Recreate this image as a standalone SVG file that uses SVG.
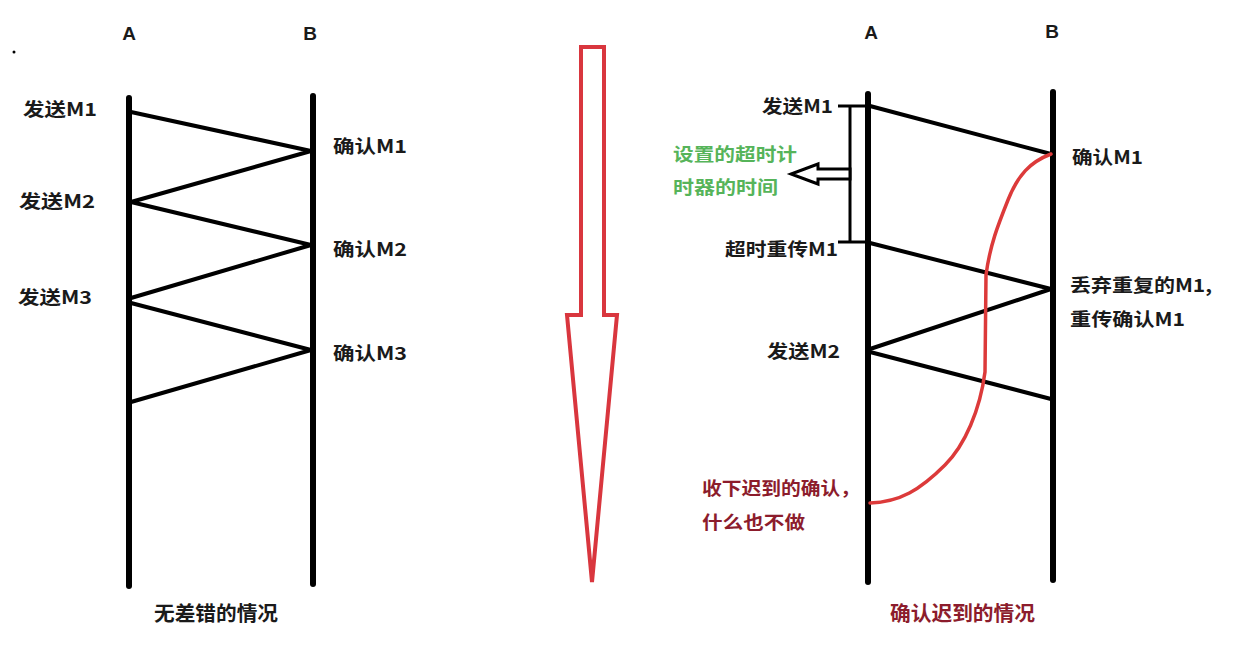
<svg xmlns="http://www.w3.org/2000/svg" width="1242" height="672" viewBox="0 0 1242 672">
<style>
.t{font-family:"Noto Sans CJK SC","Liberation Sans",sans-serif;font-weight:700;font-size:18px;fill:#1a1a1a}
.h{font-family:"Liberation Sans","Noto Sans",sans-serif;font-weight:700;font-size:19px;fill:#1a1a1a}
.g{fill:#56b45a}
.r{fill:#8c1c2c}
.life{stroke:#000;stroke-width:6;stroke-linecap:round}
.msg{stroke:#000;stroke-width:4;stroke-linecap:round;stroke-linejoin:round;fill:none}
</style>
<rect width="1242" height="672" fill="#ffffff"/>
<circle cx="14" cy="52" r="1.5" fill="#000"/>
<!-- Left diagram -->
<g id="left-A">
<line class="life" x1="129" y1="98" x2="129" y2="586"/>
<text class="h" x="129" y="40" text-anchor="middle">A</text>
</g>
<g id="left-B">
<line class="life" x1="313" y1="96" x2="313" y2="584"/>
<text class="h" x="310" y="40" text-anchor="middle">B</text>
</g>
<g id="left-connectors">
<polyline class="msg" points="131,112 311,151 131,202 311,245 131,298"/>
<polyline class="msg" points="131,303 311,350 131,402"/>
</g>
<g id="left-labels">
<text class="t" x="23" y="116" textLength="74" lengthAdjust="spacingAndGlyphs">发送M1</text>
<text class="t" x="19" y="208" textLength="76" lengthAdjust="spacingAndGlyphs">发送M2</text>
<text class="t" x="18" y="304" textLength="74" lengthAdjust="spacingAndGlyphs">发送M3</text>
<text class="t" x="333" y="153" textLength="74" lengthAdjust="spacingAndGlyphs">确认M1</text>
<text class="t" x="333" y="256" textLength="74" lengthAdjust="spacingAndGlyphs">确认M2</text>
<text class="t" x="333" y="360" textLength="74" lengthAdjust="spacingAndGlyphs">确认M3</text>
<text class="t" x="154" y="621" style="font-size:20px" textLength="124" lengthAdjust="spacingAndGlyphs">无差错的情况</text>
</g>
<!-- Middle arrow -->
<g id="big-arrow">
<polygon points="581,47 604,47 604,315 617,315 592,582 567,315 581,315" fill="none" stroke="#d9363e" stroke-width="4" stroke-linejoin="miter"/>
</g>
<!-- Right diagram -->
<g id="right-A">
<line class="life" x1="868" y1="94" x2="868" y2="582"/>
<text class="h" x="871" y="39" text-anchor="middle">A</text>
</g>
<g id="right-B">
<line class="life" x1="1053" y1="92" x2="1053" y2="580"/>
<text class="h" x="1052" y="38" text-anchor="middle">B</text>
</g>
<g id="timer">
<line x1="838" y1="106" x2="868" y2="106" stroke="#000" stroke-width="3"/>
<line x1="838" y1="242" x2="868" y2="242" stroke="#000" stroke-width="3"/>
<line x1="850" y1="106" x2="850" y2="242" stroke="#000" stroke-width="3"/>
<polygon points="850,169 818,169 818,164 791,174 818,184 818,179 850,179" fill="#fff" stroke="#000" stroke-width="3" stroke-linejoin="miter"/>
</g>
<g id="right-connectors">
<line class="msg" x1="870" y1="106" x2="1051" y2="154"/>
<polyline class="msg" points="870,243 1051,289 870,349"/>
<line class="msg" x1="870" y1="352" x2="1051" y2="399"/>
<path d="M1051,154 C1030,162 1018,175 1008,200 S990,245 986,275 L985,372 C980,410 965,445 945,465 C920,490 900,502 870,503" fill="none" stroke="#dc3a3a" stroke-width="3.5" stroke-linecap="round"/>
</g>
<g id="right-labels">
<text class="t" x="762" y="113" textLength="71" lengthAdjust="spacingAndGlyphs">发送M1</text>
<text class="t" x="1072" y="164" textLength="71" lengthAdjust="spacingAndGlyphs">确认M1</text>
<text class="t g" x="673" y="161" textLength="124" lengthAdjust="spacingAndGlyphs">设置的超时计</text>
<text class="t g" x="673" y="194" textLength="105" lengthAdjust="spacingAndGlyphs">时器的时间</text>
<text class="t" x="725" y="256" textLength="113" lengthAdjust="spacingAndGlyphs">超时重传M1</text>
<text class="t" x="1070" y="292" textLength="142" lengthAdjust="spacingAndGlyphs">丢弃重复的M1,</text>
<text class="t" x="1070" y="326" textLength="115" lengthAdjust="spacingAndGlyphs">重传确认M1</text>
<text class="t" x="767" y="358" textLength="73" lengthAdjust="spacingAndGlyphs">发送M2</text>
<text class="t r" x="702" y="495" textLength="158" lengthAdjust="spacingAndGlyphs">收下迟到的确认，</text>
<text class="t r" x="702" y="529" textLength="103" lengthAdjust="spacingAndGlyphs">什么也不做</text>
<text class="t r" x="890" y="621" style="font-size:20px" textLength="145" lengthAdjust="spacingAndGlyphs">确认迟到的情况</text>
</g>
</svg>
